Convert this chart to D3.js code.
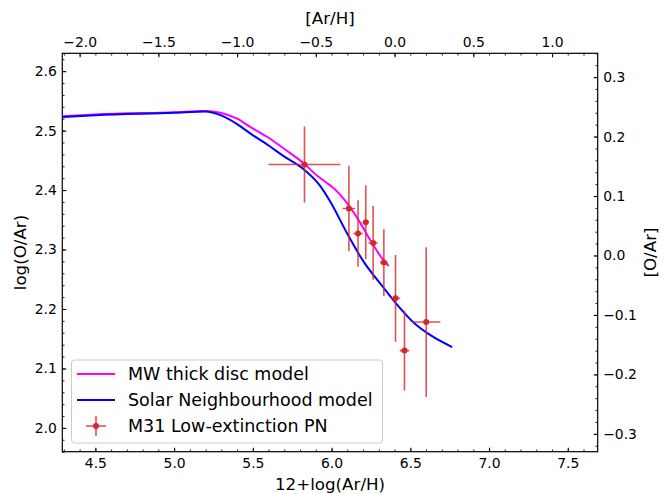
<!DOCTYPE html>
<html>
<head>
<meta charset="utf-8">
<script src="https://cdn.jsdelivr.net/npm/d3@7"></script>
<style>
  html, body { margin: 0; padding: 0; background: #fff; }
  text { font-family: "DejaVu Sans", sans-serif; fill: #000; }
</style>
</head>
<body>
<svg id="chart" width="664" height="494"></svg>
<script>
// ---------------- DATA ----------------
const solarAr = 6.40;   // top axis offset: [Ar/H] = 12+log(Ar/H) - solarAr
const solarOAr = 2.29;  // right axis offset: [O/Ar] = log(O/Ar) - solarOAr

const thickDiscX = [4.29, 4.5, 5.0, 5.2, 5.294, 5.40, 5.485, 5.60, 5.696, 5.823, 5.909, 5.96, 6.014, 6.099, 6.184, 6.25, 6.321, 6.363];
const thickDiscY = [2.524, 2.527, 2.531, 2.533, 2.530, 2.520, 2.506, 2.488, 2.470, 2.445, 2.424, 2.414, 2.403, 2.378, 2.344, 2.314, 2.285, 2.272];

const solarNbX = [4.29, 4.5, 5.0, 5.2, 5.294, 5.40, 5.485, 5.60, 5.696, 5.823, 5.919, 5.993, 6.099, 6.195, 6.332, 6.417, 6.522, 6.628, 6.766];
const solarNbY = [2.523, 2.526, 2.530, 2.532, 2.526, 2.511, 2.495, 2.475, 2.457, 2.435, 2.410, 2.380, 2.327, 2.283, 2.235, 2.207, 2.177, 2.156, 2.136];

const pnX    = [5.828, 6.110, 6.217, 6.168, 6.264, 6.332, 6.406, 6.463, 6.601];
const pnY    = [2.443, 2.369, 2.346, 2.327, 2.311, 2.278, 2.218, 2.130, 2.178];
const pnXerr = [0.228, 0.040, 0.020, 0.030, 0.030, 0.025, 0.030, 0.030, 0.090];
const pnYerr = [0.064, 0.072, 0.062, 0.056, 0.062, 0.056, 0.073, 0.067, 0.126];

const bottomTicks = [4.5, 5.0, 5.5, 6.0, 6.5, 7.0, 7.5];
const topTicks    = [-2.0, -1.5, -1.0, -0.5, 0.0, 0.5, 1.0];
const leftTicks   = [2.0, 2.1, 2.2, 2.3, 2.4, 2.5, 2.6];
const rightTicks  = [-0.3, -0.2, -0.1, 0.0, 0.1, 0.2, 0.3];

const seriesNames = ["MW thick disc model", "Solar Neighbourhood model", "M31 Low-extinction PN"];
const seriesColors = ["#ff00ff", "#0000ff", "#d62728"];

// ---------------- LAYOUT ----------------
const L = 62.3, R = 597.7, T = 53.3, B = 451.7;
const xDomain = [4.29, 7.69];
const yDomain = [1.96, 2.63];

const svg = d3.select("#chart");
const x = d3.scaleLinear().domain(xDomain).range([L, R]);
const xTop = d3.scaleLinear().domain(xDomain.map(v => v - solarAr)).range([L, R]);
const y = d3.scaleLinear().domain(yDomain).range([B, T]);
const yRight = d3.scaleLinear().domain(yDomain.map(v => v - solarOAr)).range([B, T]);

const fmt = d => d3.format(".1f")(d).replace("-", "\u2212");
const tickFont = "13.9px";

function minorVals(scale, step) {
  const [a, b] = scale.domain();
  const out = [];
  for (let v = Math.ceil(a / step - 1e-9) * step; v <= b + 1e-9; v += step) out.push(+v.toFixed(4));
  return out;
}

function drawAxis(axisFn, scale, major, minorStep, tx, ty, pad) {
  const gMinor = svg.append("g").attr("transform", `translate(${tx},${ty})`)
    .call(axisFn(scale).tickValues(minorVals(scale, minorStep)).tickSize(-2.2).tickFormat(""));
  gMinor.select(".domain").remove();
  gMinor.selectAll("line").attr("stroke", "#000").attr("stroke-width", 0.9);
  const g = svg.append("g").attr("transform", `translate(${tx},${ty})`)
    .call(axisFn(scale).tickValues(major).tickSize(-4).tickPadding(pad).tickFormat(fmt));
  g.select(".domain").remove();
  g.selectAll("line").attr("stroke", "#000").attr("stroke-width", 1.1);
  g.selectAll("text").style("font-size", tickFont).style("font-family", "DejaVu Sans").attr("fill", "#222");
  return g;
}

drawAxis(d3.axisBottom, x, bottomTicks, 0.1, 0, B, 6);
drawAxis(d3.axisTop, xTop, topTicks, 0.1, 0, T, 6);
drawAxis(d3.axisLeft, y, leftTicks, 0.02, L, 0, 5.5);
drawAxis(d3.axisRight, yRight, rightTicks, 0.02, R, 0, 5.5);

// frame
svg.append("rect").attr("x", L).attr("y", T).attr("width", R - L).attr("height", B - T)
  .attr("fill", "none").attr("stroke", "#000").attr("stroke-width", 1.2);

// axis labels
const labFont = "16.7px";
svg.append("text").attr("x", (L + R) / 2).attr("y", 490).attr("text-anchor", "middle")
  .style("font-size", labFont).text("12+log(Ar/H)");
svg.append("text").attr("x", (L + R) / 2).attr("y", 24).attr("text-anchor", "middle")
  .style("font-size", labFont).text("[Ar/H]");
svg.append("text").attr("transform", `translate(26,${(T + B) / 2}) rotate(-90)`).attr("text-anchor", "middle")
  .style("font-size", labFont).text("log(O/Ar)");
svg.append("text").attr("transform", `translate(656,${(T + B) / 2}) rotate(-90)`).attr("text-anchor", "middle")
  .style("font-size", labFont).text("[O/Ar]");

// clip
svg.append("clipPath").attr("id", "clip").append("rect")
  .attr("x", L).attr("y", T).attr("width", R - L).attr("height", B - T);
const plot = svg.append("g").attr("clip-path", "url(#clip)");

const line = d3.line().x(d => x(d[0])).y(d => y(d[1])).curve(d3.curveMonotoneX);
plot.append("path").datum(thickDiscX.map((v, i) => [v, thickDiscY[i]]))
  .attr("d", line).attr("fill", "none").attr("stroke", seriesColors[0]).attr("stroke-width", 2);
plot.append("path").datum(solarNbX.map((v, i) => [v, solarNbY[i]]))
  .attr("d", line).attr("fill", "none").attr("stroke", seriesColors[1]).attr("stroke-width", 2);

// error bars
const pts = pnX.map((v, i) => ({ x: v, y: pnY[i], xe: pnXerr[i], ye: pnYerr[i] }));
const eb = plot.append("g").attr("stroke", seriesColors[2]).attr("stroke-opacity", 0.8).attr("stroke-width", 1.6);
eb.selectAll("line.v").data(pts).join("line").attr("class", "v")
  .attr("x1", d => x(d.x)).attr("x2", d => x(d.x)).attr("y1", d => y(d.y - d.ye)).attr("y2", d => y(d.y + d.ye));
eb.selectAll("line.h").data(pts).join("line").attr("class", "h")
  .attr("x1", d => x(d.x - d.xe)).attr("x2", d => x(d.x + d.xe)).attr("y1", d => y(d.y)).attr("y2", d => y(d.y));
plot.append("g").selectAll("circle").data(pts).join("circle")
  .attr("cx", d => x(d.x)).attr("cy", d => y(d.y)).attr("r", 3).attr("fill", seriesColors[2]);

// legend
const lg = svg.append("g");
lg.append("rect").attr("x", 71.5).attr("y", 360).attr("width", 311).attr("height", 83).attr("rx", 3)
  .attr("fill", "#fff").attr("fill-opacity", 0.8).attr("stroke", "#cccccc").attr("stroke-width", 1);
const rowsY = [374, 400, 426];
seriesNames.forEach((name, i) => {
  const ry = rowsY[i];
  if (i < 2) {
    lg.append("line").attr("x1", 77).attr("x2", 115).attr("y1", ry).attr("y2", ry)
      .attr("stroke", seriesColors[i]).attr("stroke-width", 2);
  } else {
    lg.append("line").attr("x1", 86).attr("x2", 106).attr("y1", ry).attr("y2", ry)
      .attr("stroke", seriesColors[2]).attr("stroke-opacity", 0.8).attr("stroke-width", 1.6);
    lg.append("line").attr("x1", 96).attr("x2", 96).attr("y1", ry - 10).attr("y2", ry + 10)
      .attr("stroke", seriesColors[2]).attr("stroke-opacity", 0.8).attr("stroke-width", 1.6);
    lg.append("circle").attr("cx", 96).attr("cy", ry).attr("r", 3).attr("fill", seriesColors[2]);
  }
  lg.append("text").attr("x", 128).attr("y", ry).attr("dy", "0.36em")
    .style("font-size", "17.5px").attr("fill", "#222").text(name);
});
</script>
</body>
</html>
